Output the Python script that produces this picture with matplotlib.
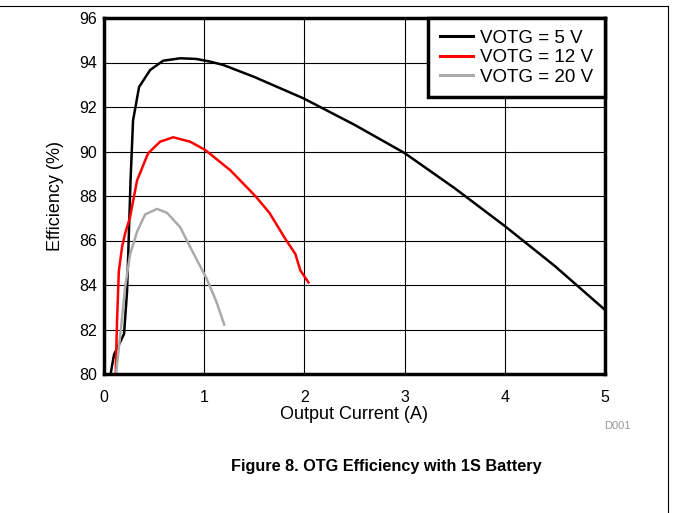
import matplotlib
matplotlib.use("Agg")
import matplotlib.pyplot as plt
from matplotlib.lines import Line2D

plt.rcParams["font.family"] = ["Liberation Sans", "DejaVu Sans"]

# VOTG = 5 V
x5 = [0.066, 0.10, 0.15, 0.20, 0.23, 0.265, 0.29, 0.35, 0.46, 0.59, 0.76, 0.92,
      1.05, 1.19, 1.5, 1.99, 2.5, 3.0, 3.5, 4.0, 4.5, 5.0]
y5 = [80.0, 80.87, 81.33, 81.8, 83.7, 88.7, 91.4, 92.9, 93.66, 94.08, 94.19, 94.16,
      94.05, 93.89, 93.35, 92.39, 91.2, 89.93, 88.35, 86.65, 84.85, 82.88]

# VOTG = 12 V
x12 = [0.117, 0.13, 0.148, 0.18, 0.21, 0.26, 0.33, 0.44, 0.56, 0.69, 0.86, 1.01,
       1.26, 1.51, 1.65, 1.81, 1.91, 1.96, 2.04]
y12 = [80.0, 82.37, 84.62, 85.7, 86.3, 87.05, 88.7, 89.92, 90.44, 90.64, 90.44, 90.07,
       89.16, 88.0, 87.25, 86.07, 85.39, 84.65, 84.12]

# VOTG = 20 V
x20 = [0.12, 0.17, 0.21, 0.26, 0.33, 0.41, 0.53, 0.63, 0.76, 0.88, 1.02, 1.12, 1.2]
y20 = [80.0, 82.07, 83.87, 85.37, 86.4, 87.17, 87.42, 87.24, 86.6, 85.53, 84.33, 83.27, 82.22]

labels = ["VOTG = 5 V", "VOTG = 12 V", "VOTG = 20 V"]
colors = ["black", "red", "#aaaaaa"]

fig = plt.figure(figsize=(6.73, 5.13), dpi=100)
ax = fig.add_axes([104 / 673, 1 - 374 / 513, 501 / 673, 356 / 513])

ax.plot(x5, y5, color=colors[0], lw=1.8, label=labels[0])
ax.plot(x12, y12, color=colors[1], lw=1.8, label=labels[1])
ax.plot(x20, y20, color=colors[2], lw=1.8, label=labels[2])

ax.set_xlim(0, 5)
ax.set_ylim(80, 96)
ax.set_xticks(range(0, 6))
ax.set_yticks(range(80, 97, 2))
ax.grid(True, color="black", lw=0.8)
ax.set_axisbelow(True)
ax.tick_params(length=0, labelsize=11.5)
ax.tick_params(axis="x", pad=11.5)
ax.tick_params(axis="y", pad=5)
for s in ax.spines.values():
    s.set_linewidth(2.5)

ax.set_xlabel("Output Current (A)", fontsize=13, labelpad=1)
ax.set_ylabel("Efficiency (%)", fontsize=13, labelpad=11)

leg = ax.legend(loc="upper right", bbox_to_anchor=(1, 1), borderaxespad=0,
                fancybox=False, fontsize=13.5, handlelength=1.75, handletextpad=0.4,
                labelspacing=0.12, borderpad=0.62, framealpha=1)
leg.get_frame().set_edgecolor("black")
leg.get_frame().set_linewidth(2.5)
for h in leg.get_lines():
    h.set_linewidth(2.2)

fig.text(617 / 673, 1 - 426 / 513, "D001", color="#999999", fontsize=8,
         ha="center", va="center")
fig.text(386 / 673, 1 - 467 / 513, "Figure 8. OTG Efficiency with 1S Battery",
         fontsize=11.7, fontweight="bold", ha="center", va="center")

# page frame lines
fig.add_artist(Line2D([0, 668 / 673], [1 - 6 / 513, 1 - 6 / 513], color="black", lw=0.8))
fig.add_artist(Line2D([668 / 673, 668 / 673], [1 - 6 / 513, 0], color="black", lw=0.8))

fig.savefig("out.png", dpi=100)
